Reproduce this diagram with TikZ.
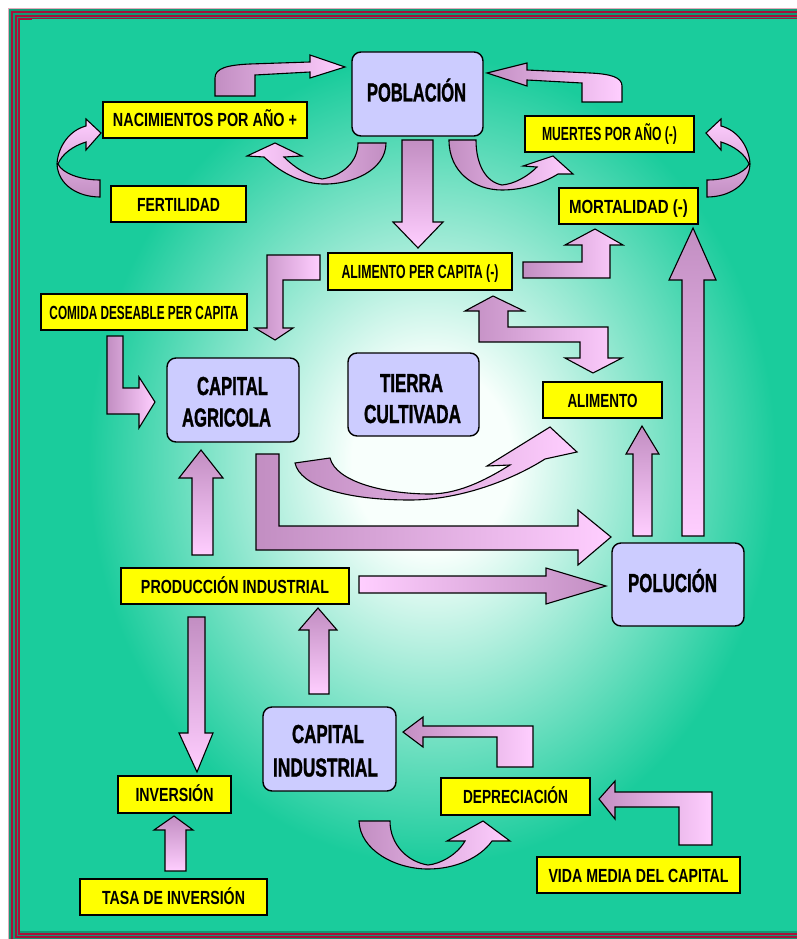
\documentclass[tikz,border=0pt]{standalone}
\usepackage{fontspec}
\setmainfont{Liberation Sans}
\newfontfamily\heavy[BoldFont={Liberation Sans Bold}, BoldFeatures={FakeBold=1.5}]{Liberation Sans}
\usepackage{graphicx}
\definecolor{teal1}{RGB}{26,204,156}
\definecolor{mauve}{RGB}{194,142,194}
\definecolor{pinkA}{RGB}{255,206,255}
\definecolor{lav}{RGB}{204,204,255}
\definecolor{crim}{RGB}{168,18,58}
\definecolor{mint}{RGB}{248,255,252}
\definecolor{yel}{RGB}{255,255,0}
\pgfdeclareradialshading{bgshade}{\pgfpoint{0bp}{0bp}}{color(0bp)=(mint); color(5bp)=(mint); color(21.5bp)=(teal1); color(50bp)=(teal1)}
\newcommand{\fitw}[2]{\resizebox{#1pt}{\height}{#2}}
\begin{document}
\begin{tikzpicture}[x=1pt,y=-1pt,
  ybox/.style={draw=black, line width=1.4pt, fill=yel, inner sep=0pt,
    font=\fontsize{19}{22}\selectfont\bfseries, text height=14pt, text depth=0pt},
  lbox/.style={draw=black, line width=1.4pt, fill=lav, rounded corners=9pt, inner sep=0pt},
  ltext/.style={inner sep=0pt, font=\heavy\fontsize{26}{30}\selectfont\bfseries, text height=18pt, text depth=0pt},
  barrow/.style={draw=black, line width=1.1pt, line join=miter}]
\useasboundingbox (0,0) rectangle (796,939);
% ---------- background and frame
\fill[white] (0,0) rectangle (796,939);
\fill[crim!35!white] (8,8) rectangle (812,945);
\fill[teal1!75!black] (9,9) rectangle (811,944);
\draw[crim, line width=2.6pt] (12,12) rectangle (808,941);
\draw[crim, line width=2pt] (16,16) rectangle (804,937);
\draw[crim, line width=1.4pt] (19,19) rectangle (801,934);
\fill[teal1] (20,20) rectangle (800,931);
\begin{scope}
  \clip (20,20) rectangle (800,931);
  \shade[shading=bgshade] (32,-10) rectangle (832,930);
\end{scope}
% ---------- block arrows
% to POBLACION from top-left
\shadedraw[barrow, left color=mauve, right color=pinkA] (215,96) -- (215,78) .. controls (215,68) and (228,65) .. (250,64) -- (310,62) -- (310,55) -- (345,67) -- (310,78) -- (310,72) -- (255,75) -- (255,96) -- cycle;
% to POBLACION from right
\shadedraw[barrow, left color=mauve, right color=pinkA] (622,102) -- (622,86) .. controls (622,77) and (610,74) .. (590,73) -- (527,70) -- (527,63) -- (487,73) -- (527,86) -- (527,80) -- (582,83) -- (582,102) -- cycle;
% POBLACION -> NACIMIENTOS
\shadedraw[barrow, left color=pinkA, right color=mauve] (386,143) .. controls (386,170) and (352,185) .. (322,184) .. controls (298,183) and (278,170) .. (264,157) -- (247,156) -- (275,143) -- (302,156) -- (284,157) .. controls (295,168) and (308,176) .. (322,179) .. controls (342,176) and (358,162) .. (358,143) -- cycle;
% POBLACION -> MUERTES
\shadedraw[barrow, left color=mauve, right color=pinkA] (449,140) .. controls (449,172) and (474,190) .. (502,190) .. controls (525,190) and (545,182) .. (558,174) -- (573,174) -- (553,156) -- (523,166) -- (537,167) .. controls (527,177) and (514,184) .. (502,185) .. controls (486,182) and (476,165) .. (476,140) -- cycle;
% FERTILIDAD -> NACIMIENTOS
\shadedraw[barrow, top color=pinkA, bottom color=mauve] (100,197) .. controls (78,197) and (58,185) .. (57,164) .. controls (58,146) and (70,130) .. (86,126) -- (86,119) -- (101,133) -- (86,150) -- (86,142) .. controls (73,146) and (62,154) .. (58,164) .. controls (62,173) and (80,180) .. (100,180) -- cycle;
% MORTALIDAD -> MUERTES
\shadedraw[barrow, top color=pinkA, bottom color=mauve] (707,197) .. controls (729,197) and (749,185) .. (750,164) .. controls (749,146) and (737,130) .. (721,126) -- (721,119) -- (706,133) -- (721,150) -- (721,142) .. controls (734,146) and (745,154) .. (749,164) .. controls (745,173) and (727,180) .. (707,180) -- cycle;
% POBLACION -> ALIMENTO PER CAPITA
\shadedraw[barrow, top color=mauve, bottom color=pinkA] (402,140) -- (433,140) -- (433,222) -- (443,222) -- (418,248) -- (393,222) -- (402,222) -- cycle;
% ALIMENTO PER CAPITA -> CAPITAL AGRICOLA
\shadedraw[barrow, left color=mauve, right color=pinkA] (320,255) -- (320,280) -- (283,280) -- (283,328) -- (293,328) -- (275,340) -- (255,328) -- (267,328) -- (267,255) -- cycle;
% ALIMENTO PER CAPITA -> MORTALIDAD
\shadedraw[barrow, left color=mauve, right color=pinkA] (523,262) -- (582,262) -- (582,245) -- (565,245) -- (595,229) -- (623,245) -- (610,245) -- (610,278) -- (523,278) -- cycle;
% COMIDA -> CAPITAL AGRICOLA
\shadedraw[barrow, left color=mauve, right color=pinkA] (107,336) -- (123,336) -- (123,388) -- (139,388) -- (139,377) -- (155,402) -- (139,428) -- (139,414) -- (107,414) -- cycle;
% ALIMENTO PER CAPITA <-> ALIMENTO
\shadedraw[barrow, left color=mauve, right color=pinkA] (493,296) -- (524,311) -- (508,311) -- (508,327) -- (608,327) -- (608,358) -- (622,358) -- (593,373) -- (565,358) -- (580,358) -- (580,342) -- (479,342) -- (479,311) -- (465,311) -- cycle;
% swoosh -> ALIMENTO
\shadedraw[barrow, left color=mauve, right color=pinkA] (295,463) -- (330,458) .. controls (336,482) and (385,494) .. (430,494) .. controls (462,494) and (492,476) .. (510,465) -- (487,466) -- (550,427) -- (577,452) -- (545,459) .. controls (512,480) and (460,500) .. (410,500) .. controls (345,500) and (300,486) .. cycle;
% CAPITAL AGRICOLA -> POLUCION
\shadedraw[barrow, left color=mauve, right color=pinkA] (256,454) -- (279,454) -- (279,526) -- (578,526) -- (578,510) -- (611,537) -- (578,565) -- (578,550) -- (256,550) -- cycle;
% PRODUCCION -> CAPITAL AGRICOLA
\shadedraw[barrow, top color=mauve, bottom color=pinkA] (201,450) -- (223,478) -- (213,478) -- (213,555) -- (192,555) -- (192,478) -- (179,478) -- cycle;
% PRODUCCION -> POLUCION
\shadedraw[barrow, left color=pinkA, right color=mauve] (359,576) -- (546,576) -- (546,568) -- (606,586) -- (546,604) -- (546,593) -- (359,593) -- cycle;
% POLUCION -> ALIMENTO
\shadedraw[barrow, top color=mauve, bottom color=pinkA] (642,426) -- (659,454) -- (652,454) -- (652,536) -- (633,536) -- (633,454) -- (626,454) -- cycle;
% POLUCION -> MORTALIDAD
\shadedraw[barrow, top color=mauve, bottom color=pinkA] (693,228) -- (716,280) -- (704,280) -- (704,536) -- (682,536) -- (682,280) -- (669,280) -- cycle;
% PRODUCCION -> INVERSION
\shadedraw[barrow, top color=mauve, bottom color=pinkA] (188,617) -- (205,617) -- (205,733) -- (213,733) -- (197,772) -- (179,733) -- (188,733) -- cycle;
% TASA -> INVERSION
\shadedraw[barrow, top color=mauve, bottom color=pinkA] (174,816) -- (193,830) -- (186,830) -- (186,871) -- (165,871) -- (165,830) -- (154,830) -- cycle;
% CAPITAL INDUSTRIAL -> PRODUCCION
\shadedraw[barrow, top color=mauve, bottom color=pinkA] (318,608) -- (337,630) -- (329,630) -- (329,694) -- (309,694) -- (309,630) -- (299,630) -- cycle;
% elbow -> CAPITAL INDUSTRIAL
\shadedraw[barrow, left color=mauve, right color=pinkA] (403,732) -- (423,717) -- (423,726) -- (533,726) -- (533,767) -- (497,767) -- (497,737) -- (423,737) -- (423,747) -- cycle;
% VIDA MEDIA -> DEPRECIACION
\shadedraw[barrow, left color=mauve, right color=pinkA] (599,799) -- (615,781) -- (615,792) -- (712,792) -- (712,845) -- (679,845) -- (679,807) -- (615,807) -- (615,819) -- cycle;
% CAPITAL INDUSTRIAL -> DEPRECIACION
\shadedraw[barrow, left color=mauve, right color=pinkA] (359,821) .. controls (360,850) and (395,869) .. (428,869) .. controls (455,869) and (480,858) .. (492,841) -- (510,841) -- (483,821) -- (447,841) -- (465,841) .. controls (457,855) and (440,864) .. (428,865) .. controls (408,862) and (390,845) .. (390,821) -- cycle;
% ---------- yellow boxes
\node[ybox, minimum width=204pt, minimum height=36pt] (nac) at (205,120) {\fitw{184}{NACIMIENTOS POR AÑO +}};
\node[ybox, minimum width=135pt, minimum height=36pt] (fert) at (178.5,204) {\fitw{83}{FERTILIDAD}};
\node[ybox, minimum width=169pt, minimum height=36pt] (muer) at (609.5,134) {\fitw{135}{MUERTES POR AÑO (-)}};
\node[ybox, minimum width=139pt, minimum height=36pt] (mort) at (628.5,206) {\fitw{119}{MORTALIDAD (-)}};
\node[ybox, minimum width=184pt, minimum height=37pt] (alimpc) at (420,271.5) {\fitw{157}{ALIMENTO PER CAPITA (-)}};
\node[ybox, minimum width=206pt, minimum height=36pt] (comida) at (144,312) {\fitw{189}{COMIDA DESEABLE PER CAPITA}};
\node[ybox, minimum width=119pt, minimum height=36pt] (alim) at (602.5,400) {\fitw{70}{ALIMENTO}};
\node[ybox, minimum width=228pt, minimum height=36pt] (prod) at (235,586) {\fitw{188}{PRODUCCIÓN INDUSTRIAL}};
\node[ybox, minimum width=113pt, minimum height=37pt] (inv) at (174.5,794.5) {\fitw{78}{INVERSIÓN}};
\node[ybox, minimum width=187pt, minimum height=36pt] (tasa) at (173.5,897) {\fitw{143}{TASA DE INVERSIÓN}};
\node[ybox, minimum width=149pt, minimum height=37pt] (deprec) at (515.5,796.5) {\fitw{105}{DEPRECIACIÓN}};
\node[ybox, minimum width=203pt, minimum height=36pt] (vida) at (638.5,875) {\fitw{180}{VIDA MEDIA DEL CAPITAL}};
% ---------- lavender boxes
\node[lbox, minimum width=131pt, minimum height=84pt] (pob) at (417.5,94) {};
\node[ltext] (pobt) at (416.5,92.5) {\fitw{99}{POBLACIÓN}};
\node[lbox, minimum width=132pt, minimum height=84pt] (capagr) at (233,400) {};
\node[ltext] (capagr1) at (232.5,386) {\fitw{71}{CAPITAL}};
\node[ltext] (capagr2) at (226.5,417.5) {\fitw{89}{AGRICOLA}};
\node[lbox, minimum width=131pt, minimum height=83pt] (tierra) at (413.5,394.5) {};
\node[ltext] (tierra1) at (411.5,383) {\fitw{63}{TIERRA}};
\node[ltext] (tierra2) at (412.5,414) {\fitw{97}{CULTIVADA}};
\node[lbox, minimum width=132pt, minimum height=83pt] (pol) at (678,584.5) {};
\node[ltext] (polt) at (672.5,583) {\fitw{89}{POLUCIÓN}};
\node[lbox, minimum width=133pt, minimum height=84pt] (capind) at (329.5,749) {};
\node[ltext] (capind1) at (328,734) {\fitw{72}{CAPITAL}};
\node[ltext] (capind2) at (325.5,767.5) {\fitw{105}{INDUSTRIAL}};
\end{tikzpicture}
\end{document}
